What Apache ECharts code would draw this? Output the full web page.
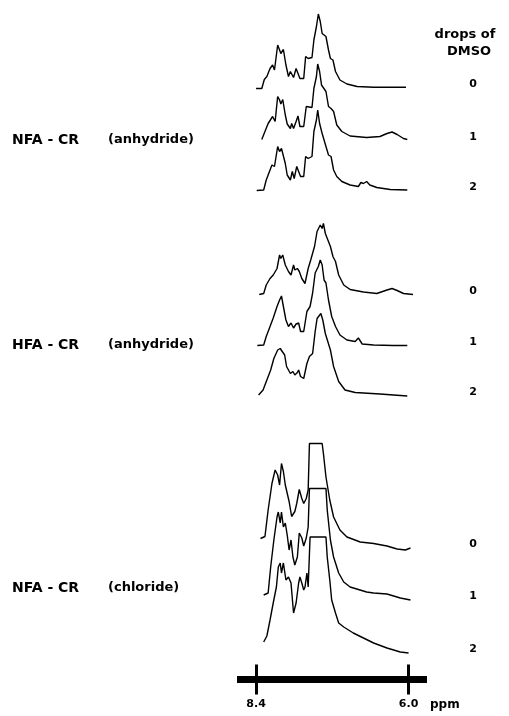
<!DOCTYPE html>
<html>
<head>
<meta charset="utf-8">
<title>NMR spectra - drops of DMSO</title>
<style>
	body { margin: 0; background: #fff; }
</style>
</head>
<body>
<div id="main" style="width:509px;height:716px;"></div>
<script src="https://cdn.jsdelivr.net/npm/echarts/dist/echarts.min.js"></script>
<script>
	// ppm axis, only the two end ticks are labelled
	var ppmTicks = [8.4, 6.0];
	var dmsoDrops = ['0', '1', '2'];
	var sampleNames = ['NFA - CR', 'HFA - CR', 'NFA - CR'];
	var sampleForms = ['(anhydride)', '(anhydride)', '(chloride)'];

	// [ppm, intensity], intensity above its own baseline
	var nfaAnh0 = [[8.40,0],[8.31,0],[8.27,9],[8.23,12],[8.18,20],[8.14,23.5],[8.11,18.5],[8.06,43.5],[8.03,38.5],[8.01,35],[7.97,39],[7.93,23.5],[7.89,12],[7.86,17],[7.84,15],[7.81,11],[7.77,20],[7.75,22],[7.71,10],[7.65,10],[7.62,32],[7.58,30],[7.52,31],[7.49,48.5],[7.45,62],[7.42,74.5],[7.39,67],[7.36,55],[7.33,57],[7.30,52],[7.26,38.5],[7.23,30],[7.19,28.5],[7.15,17],[7.08,8.5],[6.97,4.5],[6.81,2],[6.55,1.2],[6.04,1.2]];
	var nfaAnh1 = [[8.31,0],[8.26,8],[8.21,16],[8.14,23],[8.10,18],[8.06,43],[8.03,39.5],[8.01,35.5],[7.98,40],[7.94,24.5],[7.91,15.5],[7.86,11],[7.84,16],[7.81,11],[7.77,18],[7.74,23.5],[7.71,13],[7.65,13],[7.61,33],[7.58,31],[7.52,32],[7.49,51],[7.45,63],[7.43,75.5],[7.40,68],[7.37,54.5],[7.34,56],[7.30,48],[7.26,33],[7.22,31],[7.18,28],[7.13,14.5],[7.05,8],[6.92,3.5],[6.66,2],[6.45,3],[6.34,6],[6.26,7.5],[6.18,5],[6.08,1],[6.02,0]];
	var nfaAnh2 = [[8.39,0],[8.28,0.5],[8.24,10.5],[8.21,12],[8.15,25.5],[8.13,27],[8.11,24],[8.06,44],[8.03,39],[8.00,42],[7.98,40.5],[7.94,27],[7.91,15.5],[7.86,10.5],[7.83,19],[7.80,12],[7.76,24],[7.73,25.5],[7.70,14],[7.65,14],[7.62,34],[7.58,32],[7.52,34],[7.49,59],[7.45,70.5],[7.43,80.5],[7.40,67],[7.36,57],[7.34,57],[7.30,44],[7.26,35.5],[7.22,34],[7.18,20.5],[7.13,14],[7.05,9],[6.92,5.5],[6.79,4],[6.75,8],[6.71,7],[6.66,9],[6.61,5.5],[6.50,3],[6.29,1],[6.02,0.5]];
	var hfaAnh0 = [[8.35,0],[8.28,1],[8.24,9.5],[8.18,16],[8.13,19.5],[8.07,26],[8.03,39.5],[8.01,36],[7.98,39.5],[7.94,29.5],[7.89,23],[7.85,19.5],[7.81,29.5],[7.79,24.5],[7.75,26],[7.72,23],[7.68,16],[7.63,11],[7.58,26],[7.54,34.5],[7.51,36],[7.48,48],[7.44,63],[7.42,64.5],[7.39,69.5],[7.36,66],[7.34,71],[7.31,61],[7.28,61],[7.23,48],[7.19,38],[7.15,33],[7.10,19.5],[7.02,9.5],[6.92,5],[6.71,2.5],[6.50,1],[6.34,4.5],[6.26,6],[6.18,4],[6.08,1],[5.93,0]];
	var hfaAnh1 = [[8.38,0],[8.28,0.5],[8.24,9],[8.18,19],[8.13,27.5],[8.07,39],[8.03,45.5],[8.00,49.5],[7.97,39],[7.93,25.5],[7.89,19],[7.85,22.5],[7.81,17.5],[7.77,21.5],[7.73,22.5],[7.70,14],[7.65,14],[7.60,34],[7.55,39],[7.51,52.5],[7.47,72.5],[7.44,74],[7.42,79],[7.39,85.5],[7.36,80.5],[7.33,65.5],[7.30,62.5],[7.26,45.5],[7.21,29],[7.15,19],[7.08,10.5],[6.97,5.5],[6.84,4],[6.79,7.5],[6.73,1.5],[6.55,0.5],[6.24,0],[6.02,0]];
	var hfaAnh2 = [[8.36,0.5],[8.29,5.5],[8.23,15.5],[8.17,25.5],[8.12,37],[8.06,45.5],[8.02,47],[7.99,49],[7.95,40.5],[7.92,29],[7.86,22],[7.82,24],[7.79,20.5],[7.75,23],[7.73,25.5],[7.70,19],[7.65,17],[7.60,32],[7.56,39],[7.51,42],[7.47,64],[7.44,77],[7.41,79],[7.38,82],[7.35,75.5],[7.31,62],[7.28,62],[7.23,45.5],[7.18,29],[7.10,14],[7.00,5.5],[6.84,3],[6.45,1.5],[6.02,-0.5]];
	var nfaChl0 = [[8.33,9.5],[8.26,11.5],[8.21,38],[8.15,64.5],[8.10,78],[8.06,73],[8.03,63],[8.00,84.5],[7.97,76.5],[7.94,63],[7.92,61.5],[7.88,46.5],[7.84,31.5],[7.79,36.5],[7.76,44.5],[7.72,58.5],[7.68,49.5],[7.65,44.5],[7.61,49.5],[7.58,58],[7.56,104.5],[7.36,104.5],[7.34,94.5],[7.30,71],[7.24,48],[7.18,31],[7.08,18],[6.97,11],[6.76,6],[6.55,4.5],[6.34,2],[6.18,-1],[6.05,-2],[5.97,0]];
	var nfaChl1 = [[8.28,5],[8.21,7],[8.17,33],[8.12,60],[8.07,83],[8.05,88],[8.02,77],[8.00,88],[7.97,73],[7.94,77],[7.91,65],[7.88,50],[7.85,60],[7.82,43],[7.79,35],[7.75,43],[7.72,67],[7.68,62],[7.65,54],[7.61,62],[7.58,73],[7.56,111.5],[7.30,111.5],[7.28,90],[7.23,60],[7.18,43],[7.10,27],[7.02,18],[6.92,13],[6.66,8],[6.55,7],[6.34,6],[6.13,2],[5.97,0]];
	var nfaChl2 = [[8.28,10],[8.23,16],[8.18,32],[8.13,49],[8.08,65],[8.05,85],[8.02,89],[8.00,79],[7.97,89],[7.93,72],[7.89,75],[7.85,69],[7.81,39],[7.77,49],[7.73,69],[7.71,75],[7.68,69],[7.65,62],[7.63,65],[7.60,79],[7.58,65],[7.55,115],[7.30,115],[7.28,95],[7.24,72],[7.21,52],[7.15,39],[7.10,29],[7.02,25],[6.87,19],[6.71,14],[6.55,9],[6.34,4],[6.13,0],[6.00,-1]];

	// stacking offset of each trace (same units as intensity)
	var baselines = [591, 540, 489, 385, 334, 284, 131.5, 79.5, 27.5];
</script>
<script>
	var myChart = echarts.init(document.getElementById('main'));
	var traces = [nfaAnh0, nfaAnh1, nfaAnh2, hfaAnh0, hfaAnh1, hfaAnh2, nfaChl0, nfaChl1, nfaChl2];
	var font = '"DejaVu Sans", sans-serif';

	var seriess = [];
	for (var i = 0; i < traces.length; i++) {
		var pts = [];
		for (var j = 0; j < traces[i].length; j++) {
			pts.push([traces[i][j][0], baselines[i] + traces[i][j][1]]);
		}
		seriess.push({
			type: 'line',
			data: pts,
			symbol: 'none',
			clip: false,
			silent: true,
			lineStyle: { color: '#000', width: 1.4 }
		});
	}

	// texts round the plot
	var texts = [];
	var labelY = [140, 345, 588];
	for (var g = 0; g < 3; g++) {
		texts.push({ type: 'text', x: 12, y: labelY[g],
			style: { text: sampleNames[g], font: 'bold 14px ' + font, fill: '#000', align: 'left', verticalAlign: 'middle' } });
		texts.push({ type: 'text', x: 108, y: labelY[g],
			style: { text: sampleForms[g], font: 'bold 13px ' + font, fill: '#000', align: 'left', verticalAlign: 'middle' } });
	}
	var dropY = [84, 137, 187, 291, 342, 392, 544, 596, 649];
	for (var k = 0; k < dropY.length; k++) {
		texts.push({ type: 'text', x: 473, y: dropY[k],
			style: { text: dmsoDrops[k % 3], font: 'bold 11px ' + font, fill: '#000', align: 'center', verticalAlign: 'middle' } });
	}
	texts.push({ type: 'text', x: 465, y: 35,
		style: { text: 'drops of', font: 'bold 13px ' + font, fill: '#000', align: 'center', verticalAlign: 'middle' } });
	texts.push({ type: 'text', x: 469, y: 52,
		style: { text: 'DMSO', font: 'bold 13px ' + font, fill: '#000', align: 'center', verticalAlign: 'middle' } });
	texts.push({ type: 'text', x: 430, y: 705,
		style: { text: 'ppm', font: 'bold 12px ' + font, fill: '#000', align: 'left', verticalAlign: 'middle' } });

	myChart.setOption({
		animation: false,
		grid: { left: 237, right: 82, top: 0, bottom: 36.5 },
		xAxis: [{
			type: 'value', min: 5.71, max: 8.70, inverse: true, position: 'bottom',
			splitLine: { show: false },
			axisLine: { lineStyle: { color: '#000', width: 7, cap: 'butt' } },
			axisTick: { customValues: ppmTicks, length: 15, lineStyle: { color: '#000', width: 3 } },
			axisLabel: {
				customValues: ppmTicks, margin: 19, color: '#000', fontSize: 11, fontWeight: 'bold', fontFamily: font,
				formatter: function (v) { return v.toFixed(1); }
			}
		}, {
			// second axis only to let the ticks cross the bar upward
			type: 'value', min: 5.71, max: 8.70, inverse: true, position: 'bottom',
			splitLine: { show: false },
			axisLine: { show: false },
			axisTick: { customValues: ppmTicks, inside: true, length: 15, lineStyle: { color: '#000', width: 3 } },
			axisLabel: { show: false }
		}],
		yAxis: { type: 'value', min: 0, max: 679.5, show: false },
		graphic: texts,
		series: seriess
	});
</script>
</body>
</html>
